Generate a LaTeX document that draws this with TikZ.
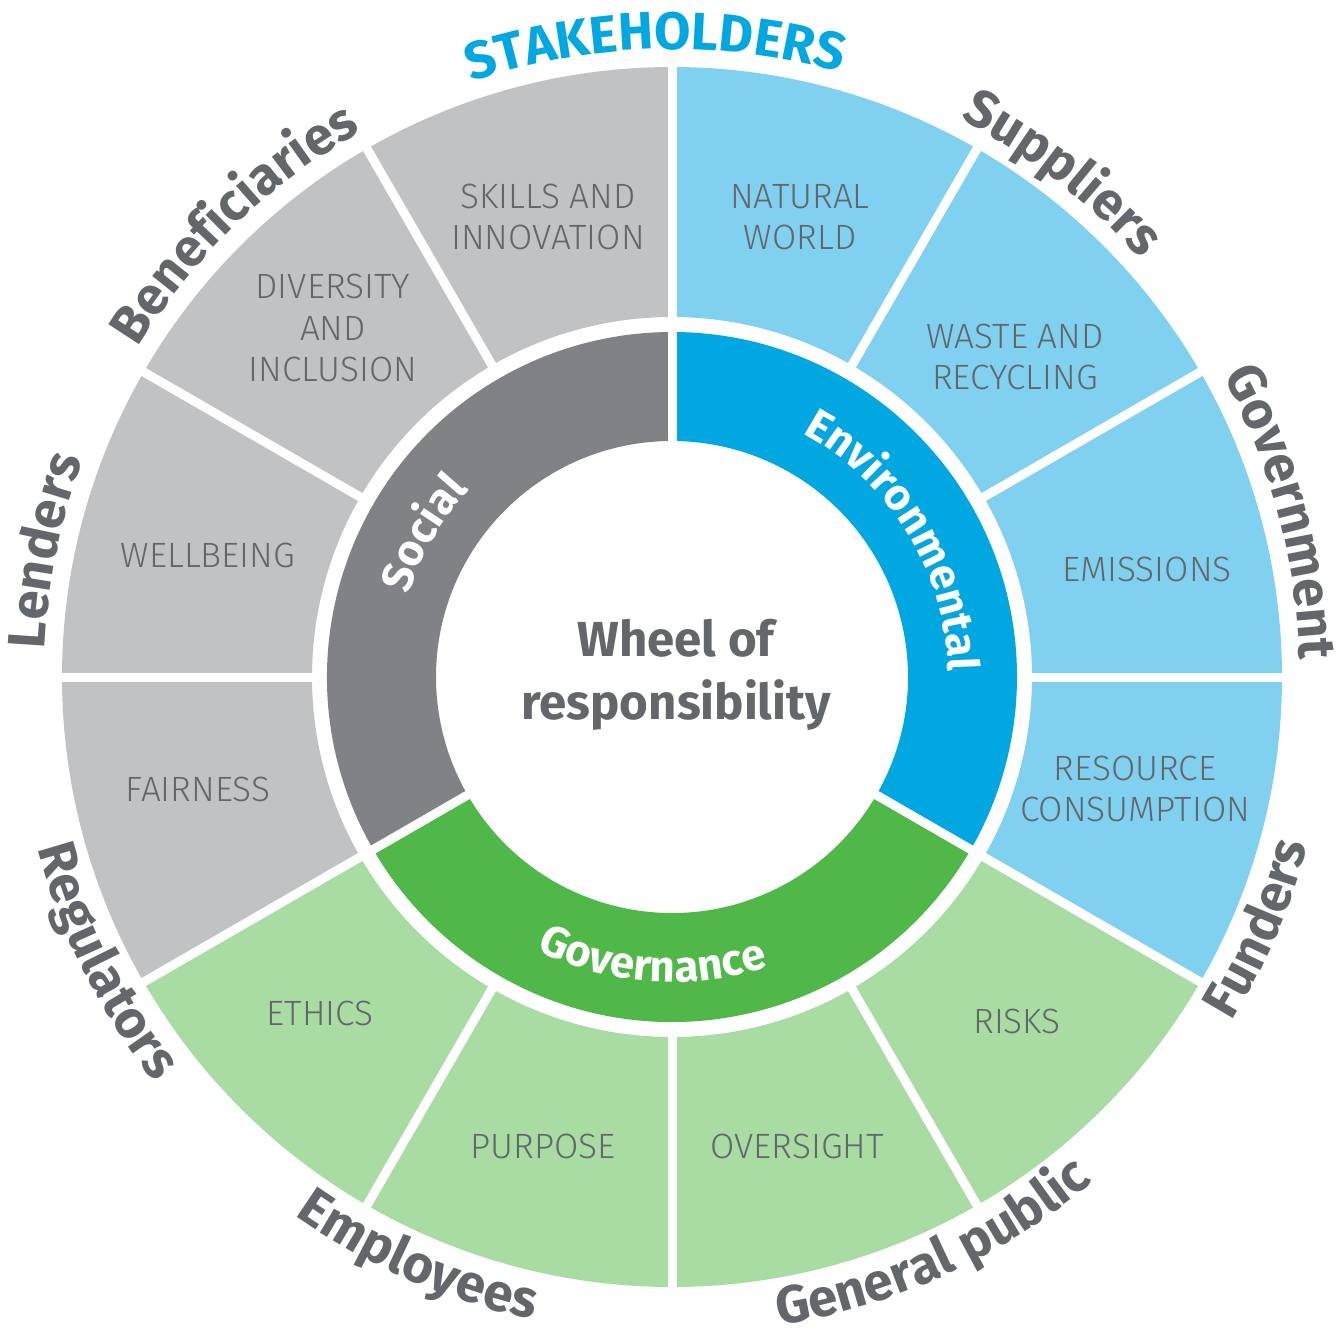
\documentclass[tikz,border=0pt]{standalone}
\usepackage{fontspec}
\setmainfont{Fira Sans}
\newfontfamily\lightfont{Fira Sans Light}
\usetikzlibrary{decorations.text}

\definecolor{socdark}{HTML}{808285}
\definecolor{soclight}{HTML}{C1C2C4}
\definecolor{envdark}{HTML}{00A7E1}
\definecolor{envlight}{HTML}{80D1F0}
\definecolor{govdark}{HTML}{50B848}
\definecolor{govlight}{HTML}{A9DCA3}
\definecolor{txtgrey}{HTML}{63666A}

\newcommand{\outerfont}{\bfseries\fontsize{15}{15}\selectfont}
\newcommand{\ringfont}{\bfseries\fontsize{12.5}{12.5}\selectfont}

\begin{document}
\begin{tikzpicture}[
    area/.style={font=\lightfont\fontsize{10}{11.7}\selectfont, text=txtgrey, align=center},
    gap/.style={white, line width=0.09cm}]
            \useasboundingbox (-6.72,-6.62) rectangle (6.71,6.77);
            % outer ring
            \foreach \a/\col in {-30/envlight, 0/envlight, 30/envlight, 60/envlight,
                                 90/soclight, 120/soclight, 150/soclight, 180/soclight,
                                 210/govlight, 240/govlight, 270/govlight, 300/govlight}
                \fill[\col] (\a:3.6) arc[start angle=\a, end angle=\a+30, radius=3.6]
                    -- ({\a+30}:6.1) arc[start angle=\a+30, end angle=\a, radius=6.1] -- cycle;
            \foreach \a in {0,30,...,330}
                \draw[gap] (\a:3.5) -- (\a:6.2);
            % inner ring
            \foreach \a/\col in {-30/envdark, 90/socdark, 210/govdark}
                \fill[\col] (\a:2.36) arc[start angle=\a, end angle=\a+120, radius=2.36]
                    -- ({\a+120}:3.45) arc[start angle=\a+120, end angle=\a, radius=3.45] -- cycle;
            \foreach \a in {-30,90,210}
                \draw[gap] (\a:2.3) -- (\a:3.5);

            \node[font=\bfseries\fontsize{14}{18}\selectfont, text=txtgrey, align=center]
                (wheel) at (0.04,0.02) {Wheel of\\responsibility};

            \node[area] (skills) at (-1.24,4.60) {SKILLS AND\\INNOVATION};
            \node[area] (natural) at (1.28,4.60) {NATURAL\\WORLD};
            \node[area] (waste) at (3.43,3.20) {WASTE AND\\RECYCLING};
            \node[area] (emissions) at (4.75,1.08) {EMISSIONS};
            \node[area] (resource) at (4.63,-1.12) {RESOURCE\\CONSUMPTION};
            \node[area] (risks) at (3.45,-3.44) {RISKS};
            \node[area] (oversight) at (1.25,-4.69) {OVERSIGHT};
            \node[area] (purpose) at (-1.29,-4.69) {PURPOSE};
            \node[area] (ethics) at (-3.52,-3.36) {ETHICS};
            \node[area] (fairness) at (-4.74,-1.12) {FAIRNESS};
            \node[area] (wellbeing) at (-4.64,1.22) {WELLBEING};
            \node[area] (diversity) at (-3.39,3.49) {DIVERSITY\\AND\\INCLUSION};

            % ring titles
            \path[decorate, decoration={text along path, text align=center, text color=white,
                text={|\ringfont|Social}}] (195:2.76) arc[start angle=195, end angle=105, radius=2.76];
            \path[decorate, decoration={text along path, text align=center, text color=white,
                text={|\ringfont|Environmental}}] (76.5:2.76) arc[start angle=76.5, end angle=-13.5, radius=2.76];
            \path[decorate, decoration={text along path, text align=center, text color=white,
                text={|\ringfont|Governance}}] (-139:3.05) arc[start angle=-139, end angle=-49, radius=3.05];

            % stakeholders
            \path[decorate, decoration={text along path, text align=center, text color=envdark,
                text={|\outerfont|STAKEHOLDERS}}] (121.5:6.28) arc[start angle=121.5, end angle=61.5, radius=6.28];
            \path[decorate, decoration={text along path, text align=center, text color=txtgrey,
                text={|\outerfont|Suppliers}}] (82.2:6.28) arc[start angle=82.2, end angle=22.2, radius=6.28];
            \path[decorate, decoration={text along path, text align=center, text color=txtgrey,
                text={|\outerfont|Government}}] (45.1:6.28) arc[start angle=45.1, end angle=-14.9, radius=6.28];
            \path[decorate, decoration={text along path, text align=center, text color=txtgrey,
                text={|\outerfont|Beneficiaries}}] (164:6.28) arc[start angle=164, end angle=104, radius=6.28];
            \path[decorate, decoration={text along path, text align=center, text color=txtgrey,
                text={|\outerfont|Lenders}}] (198.6:6.28) arc[start angle=198.6, end angle=138.6, radius=6.28];
            \path[decorate, decoration={text along path, text align=center, text color=txtgrey,
                text={|\outerfont|Funders}}] (-53.2:6.575) arc[start angle=-53.2, end angle=6.8, radius=6.575];
            \path[decorate, decoration={text along path, text align=center, text color=txtgrey,
                text={|\outerfont|General public}}] (-95.4:6.575) arc[start angle=-95.4, end angle=-35.4, radius=6.575];
            \path[decorate, decoration={text along path, text align=center, text color=txtgrey,
                text={|\outerfont|Employees}}] (-143.6:6.575) arc[start angle=-143.6, end angle=-83.6, radius=6.575];
            \path[decorate, decoration={text along path, text align=center, text color=txtgrey,
                text={|\outerfont|Regulators}}] (-183.4:6.575) arc[start angle=-183.4, end angle=-123.4, radius=6.575];
        \end{tikzpicture}
\end{document}
